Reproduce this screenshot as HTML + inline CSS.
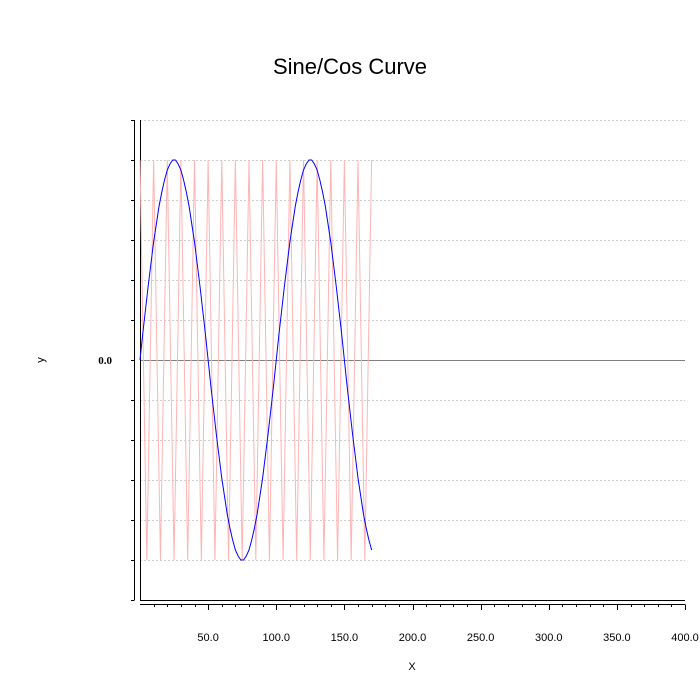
<!DOCTYPE html>
<html><head><meta charset="utf-8"><style>
body{margin:0;background:#fff}
svg{display:block;font-family:"Liberation Sans",sans-serif}
</style></head><body>
<svg id="chart" width="700" height="700" viewBox="0 0 700 700">
<rect width="700" height="700" fill="#fff"/>
<text x="350" y="74" text-anchor="middle" font-size="22">Sine/Cos Curve</text>
<g id="grid"></g>
<g id="axes"></g>
<g id="series"></g>
<text transform="translate(44,360) rotate(-90)" text-anchor="middle" font-size="11">y</text>
<text x="412" y="670" text-anchor="middle" font-size="11">X</text>
</svg>
<script>
const xTickValues=[50,100,150,200,250,300,350,400];
const xTickLabels=["50.0","100.0","150.0","200.0","250.0","300.0","350.0","400.0"];
const yGridValues=[-1.2,-1.0,-0.8,-0.6,-0.4,-0.2,0.2,0.4,0.6,0.8,1.0,1.2];
const sineX=[0,2,4,6,8,10,12,14,16,18,20,22,24,26,28,30,32,34,36,38,40,42,44,46,48,50,52,54,56,58,60,62,64,66,68,70,72,74,76,78,80,82,84,86,88,90,92,94,96,98,100,102,104,106,108,110,112,114,116,118,120,122,124,126,128,130,132,134,136,138,140,142,144,146,148,150,152,154,156,158,160,162,164,166,168,170];
const sineY=[0,.13,.25,.37,.48,.59,.68,.77,.84,.90,.95,.98,1.0,1.0,.98,.95,.90,.84,.77,.68,.59,.48,.37,.25,.13,0,-.13,-.25,-.37,-.48,-.59,-.68,-.77,-.84,-.90,-.95,-.98,-1.0,-1.0,-.98,-.95,-.90,-.84,-.77,-.68,-.59,-.48,-.37,-.25,-.13,0,.13,.25,.37,.48,.59,.68,.77,.84,.90,.95,.98,1.0,1.0,.98,.95,.90,.84,.77,.68,.59,.48,.37,.25,.13,0,-.13,-.25,-.37,-.48,-.59,-.68,-.77,-.84,-.90,-.95];
const cosX=[0,5,10,15,20,25,30,35,40,45,50,55,60,65,70,75,80,85,90,95,100,105,110,115,120,125,130,135,140,145,150,155,160,165,170];
const cosY=[1,-1,1,-1,1,-1,1,-1,1,-1,1,-1,1,-1,1,-1,1,-1,1,-1,1,-1,1,-1,1,-1,1,-1,1,-1,1,-1,1,-1,1];

const NS="http://www.w3.org/2000/svg";
const L=140,R=685,T=120,B=600;
const xs=v=>L+(v-0)/400*(R-L);
const ys=v=>T+(1.2-v)/2.4*(B-T);
function mk(tag,attrs,parent){const e=document.createElementNS(NS,tag);for(const k in attrs)e.setAttribute(k,attrs[k]);parent.appendChild(e);return e;}
const grid=document.getElementById('grid'),axes=document.getElementById('axes'),series=document.getElementById('series');
yGridValues.forEach(v=>{
  const g=mk('line',{x1:L,x2:R,y1:Math.round(ys(v))+0.5,y2:Math.round(ys(v))+0.5,stroke:'#cfcfcf','stroke-dasharray':'2,2','stroke-width':1},grid);
  
  
});
const zl=mk('line',{x1:L,x2:R,y1:ys(0)+0.5,y2:ys(0)+0.5,stroke:'#808080','stroke-width':1},grid);


const ya=mk('line',{x1:134.5,x2:134.5,y1:T,y2:B,stroke:'#000'},axes);


for(let v=-1.2;v<=1.21;v+=0.2){
  const t=mk('line',{x1:131,x2:134.5,y1:Math.round(ys(v))+0.5,y2:Math.round(ys(v))+0.5,stroke:'#000'},axes);
  
  
}
const yl=mk('text',{x:112,y:ys(0)+4,'text-anchor':'end','font-size':11,'font-weight':'bold','font-family':'Liberation Serif, serif'},axes);
yl.textContent='0.0';


const pl=mk('polyline',{points:`${L+0.5},${T} ${L+0.5},${B+0.5} ${R},${B+0.5}`,fill:'none',stroke:'#000'},axes);


const xa=mk('line',{x1:L,x2:R,y1:604.5,y2:604.5,stroke:'#000'},axes);


for(let v=10;v<=400;v+=10){
  const X=Math.round(xs(v))+0.5;
  const t=mk('line',{x1:X,x2:X,y1:604.5,y2:v%50===0?610:607,stroke:'#000'},axes);
  
  
}
xTickValues.forEach((v,i)=>{
  const t=mk('text',{x:xs(v),y:641,'text-anchor':'middle','font-size':11},axes);
  t.textContent=xTickLabels[i];
  
  
});
const cos=mk('polyline',{points:cosX.map((x,i)=>xs(x)+','+ys(cosY[i])).join(' '),fill:'none',stroke:'#ffb4b4','stroke-width':1},series);


const sin=mk('polyline',{points:sineX.map((x,i)=>xs(x)+','+ys(sineY[i])).join(' '),fill:'none',stroke:'#0000ff','stroke-width':1},series);


</script>
</body></html>
